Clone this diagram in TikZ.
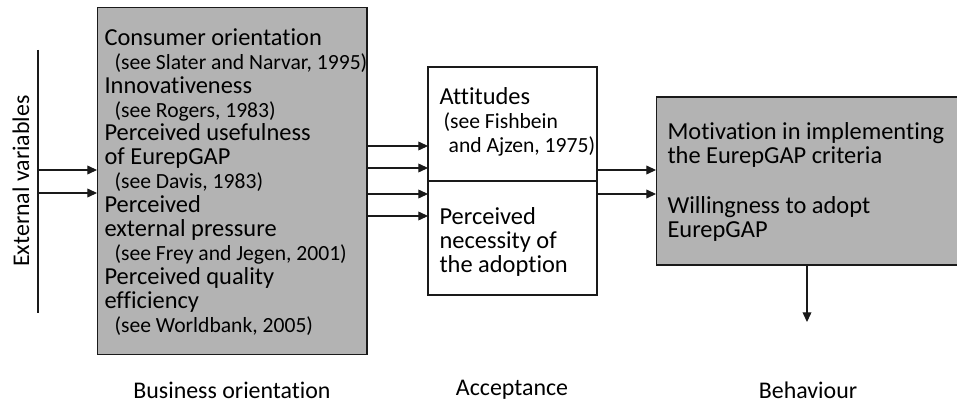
\documentclass[tikz,border=0pt]{standalone}
\usepackage{fontspec}
\setmainfont{Carlito}[Ligatures=NoCommon]
\usepackage{tikz}
\usetikzlibrary{arrows.meta,positioning}
\definecolor{boxgray}{RGB}{179,179,179}
\definecolor{inkblack}{RGB}{26,26,26}
% literature references are set a little smaller
\newcommand{\seeref}[1]{{\fontsize{12.3}{13.6}\selectfont #1}}

\begin{document}
\begin{tikzpicture}[x=0.02cm, y=-0.02cm, line width=0.6pt, draw=inkblack,
    arr/.style={-{Triangle[length=5.5pt,width=5pt]}},
    stage/.style={draw=inkblack, inner sep=0pt, outer sep=0pt},
    body/.style={anchor=north west, inner sep=0pt, align=left,
        font=\fontsize{13.9}{13.6}\selectfont},
    caption/.style={font=\fontsize{13.6}{14}\selectfont}]
    \useasboundingbox (0,0) rectangle (957,402);

    % External variables
    \coordinate (ext top) at (38,50);
    \coordinate (ext bot) at (38,313);
    \draw (ext top) -- (ext bot);
    \node[caption, rotate=90] (extlabel) at (21,181) {External variables};

    % Business orientation
    \node[stage, fill=boxgray, minimum width=5.4cm, minimum height=6.96cm] (bus) at (232,181) {};
    \node[body] (bustext) at (104,28) {%
        Consumer orientation\\
        \hspace*{5.7pt}\seeref{(see Slater and Narvar, 1995)}\\
        Innovativeness\\
        \hspace*{5.7pt}\seeref{(see Rogers, 1983)}\\
        Perceived usefulness\\
        of EurepGAP\\
        \hspace*{5.7pt}\seeref{(see Davis, 1983)}\\
        Perceived\\
        external pressure\\
        \hspace*{5.7pt}\seeref{(see Frey and Jegen, 2001)}\\
        Perceived quality\\
        efficiency\\
        \hspace*{5.7pt}\seeref{(see Worldbank, 2005)}};

    % Acceptance
    \node[stage, fill=white, minimum width=3.38cm, minimum height=4.56cm] (acc) at (512.5,181) {};
    \draw (acc.west) -- (acc.east);
    \node[body] (atttext) at (439,87) {%
        Attitudes\\
        \hspace*{2.3pt}\seeref{(see Fishbein}\\
        \hspace*{5.2pt}\seeref{and Ajzen, 1975)}};
    \node[body] (neetext) at (439,207) {%
        Perceived\\
        necessity of\\
        the adoption};

    % Behaviour
    \node[stage, fill=boxgray, minimum width=6.04cm, minimum height=3.36cm] (beh) at (807,181) {};
    \node[body] (mottext) at (667,122) {%
        Motivation in implementing\\
        the EurepGAP criteria};
    \node[body] (wiltext) at (667,196) {%
        Willingness to adopt\\
        EurepGAP};

    % Connectors
    \foreach \y in {170,193}
        \draw[arr] (38,\y) -- (bus.west |- 0,\y);
    \foreach \y in {146,168,194,216}
        \draw[arr] (bus.east |- 0,\y) -- (acc.west |- 0,\y);
    \foreach \y in {170,194}
        \draw[arr] (acc.east |- 0,\y) -- (beh.west |- 0,\y);
    \coordinate (out) at (807,322);
    \draw[arr] (beh.south) -- (out);

    % Stage captions
    \node[caption] (buscap) at (232,390) {Business orientation};
    \node[caption] (acccap) at (512,390) {Acceptance};
    \node[caption] (behcap) at (808,390) {Behaviour};
\end{tikzpicture}
\end{document}
